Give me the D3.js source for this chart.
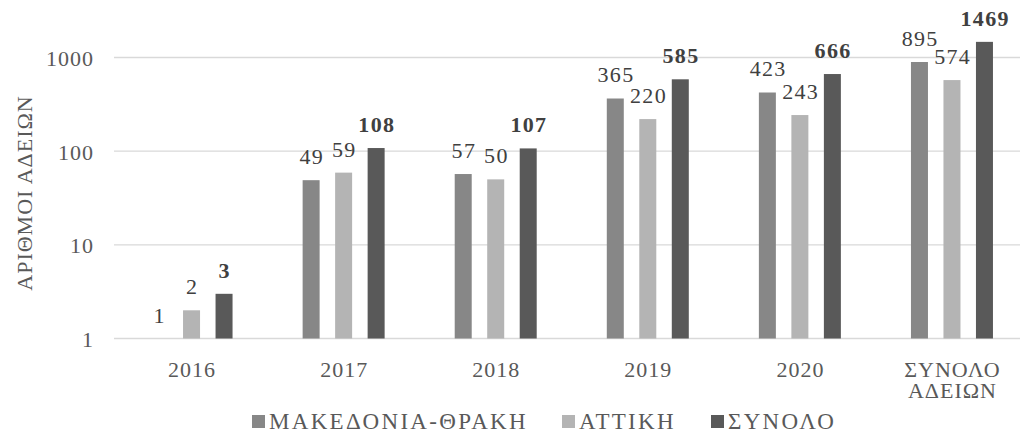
<!DOCTYPE html>
<html>
<head>
<meta charset="utf-8">
<script src="https://cdn.jsdelivr.net/npm/d3@7"></script>
<style>
  body { margin: 0; background: #fff; }
</style>
</head>
<body>
<svg class="chart"></svg>
<script>
var categories = ["2016", "2017", "2018", "2019", "2020", "ΣΥΝΟΛΟ ΑΔΕΙΩΝ"];
var seriesNames = ["ΜΑΚΕΔΟΝΙΑ-ΘΡΑΚΗ", "ΑΤΤΙΚΗ", "ΣΥΝΟΛΟ"];
var makedonia = [1, 49, 57, 365, 423, 895];
var attiki = [2, 59, 50, 220, 243, 574];
var synolo = [3, 108, 107, 585, 666, 1469];
var yTicks = [1, 10, 100, 1000];
var colors = ["#878787", "#b4b4b4", "#595959"];

var width = 1020, height = 432;
var seriesValues = [makedonia, attiki, synolo];
var font = "Liberation Serif";

var chart = d3.select(".chart")
    .attr("width", width)
    .attr("height", height)
    .attr("font-family", font);

var x = d3.scaleBand()
    .domain(categories)
    .range([115.5, 1028])
    .padding(0);

var x1 = d3.scaleBand()
    .domain(seriesNames)
    .range([-41, 41])
    .paddingInner(0.477);

var y = d3.scaleLog()
    .domain([1, 1000])
    .range([338.5, 57.5]);

// gridlines
chart.append("g")
    .selectAll("line")
    .data(yTicks)
  .enter().append("line")
    .attr("x1", 114)
    .attr("x2", width)
    .attr("y1", function(d) { return y(d); })
    .attr("y2", function(d) { return y(d); })
    .attr("stroke", "#d9d9d9")
    .attr("stroke-width", 1.3);

// y tick labels
chart.append("g")
    .selectAll("text")
    .data(yTicks)
  .enter().append("text")
    .attr("x", 94)
    .attr("y", function(d) { return y(d) + 8.5; })
    .attr("text-anchor", "end")
    .attr("font-size", 22)
    .attr("letter-spacing", 1)
    .attr("fill", "#595959")
    .text(function(d) { return d; });

// bars
var groups = chart.selectAll(".grp")
    .data(categories)
  .enter().append("g")
    .attr("class", "grp")
    .attr("transform", function(d) { return "translate(" + (x(d) + x.bandwidth() / 2) + ",0)"; });

groups.selectAll("rect")
    .data(function(d, i) { return seriesNames.map(function(s, j) { return {s: s, j: j, v: seriesValues[j][i]}; }); })
  .enter().append("rect")
    .attr("x", function(d) { return x1(d.s); })
    .attr("y", function(d) { return y(d.v); })
    .attr("width", x1.bandwidth())
    .attr("height", function(d) { return y(1) - y(d.v); })
    .attr("fill", function(d) { return colors[d.j]; });

groups.selectAll(".lbl")
    .data(function(d, i) { return seriesNames.map(function(s, j) { return {s: s, j: j, v: seriesValues[j][i]}; }); })
  .enter().append("text")
    .attr("class", "lbl")
    .attr("x", function(d) { return x1(d.s) + x1.bandwidth() / 2 + 0.7; })
    .attr("y", function(d) { return y(d.v) - 16; })
    .attr("text-anchor", "middle")
    .attr("font-size", 22)
    .attr("letter-spacing", 1.3)
    .attr("font-weight", function(d) { return d.j == 2 ? "bold" : "normal"; })
    .attr("fill", "#404040")
    .text(function(d) { return d.v; });

// x labels (last category on two lines)
var xl = chart.append("g")
    .selectAll("g")
    .data(categories)
  .enter().append("g");

xl.each(function(d) {
  var parts = d.split(" ");
  var g = d3.select(this);
  parts.forEach(function(p, i) {
    g.append("text")
      .attr("x", x(d) + x.bandwidth() / 2 + 0.5)
      .attr("y", 377 + i * 21)
      .attr("text-anchor", "middle")
      .attr("font-size", 22)
      .attr("letter-spacing", 1)
      .attr("fill", "#595959")
      .text(p);
  });
});

// y axis title
chart.append("text")
    .attr("transform", "translate(32,193) rotate(-90)")
    .attr("text-anchor", "middle")
    .attr("font-size", 22)
    .attr("letter-spacing", 1)
    .attr("fill", "#595959")
    .text("ΑΡΙΘΜΟΙ ΑΔΕΙΩΝ");

// legend
var legendX = [252, 562, 711];
var legend = chart.append("g")
    .selectAll("g")
    .data(seriesNames)
  .enter().append("g")
    .attr("transform", function(d, i) { return "translate(" + legendX[i] + ",415)"; });

legend.append("rect")
    .attr("width", 13)
    .attr("height", 13)
    .attr("fill", function(d, i) { return colors[i]; });

legend.append("text")
    .attr("x", 17)
    .attr("y", 13.5)
    .attr("font-size", 23)
    .attr("letter-spacing", 2.3)
    .attr("fill", "#595959")
    .text(function(d) { return d; });
</script>
</body>
</html>
